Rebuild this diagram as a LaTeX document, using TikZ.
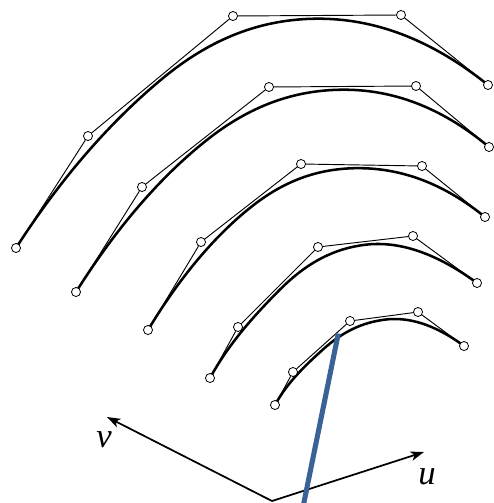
\documentclass[tikz,border=0pt]{standalone}
\usepackage{fontspec}
\setmainfont{Liberation Serif}
\usetikzlibrary{arrows.meta, calc, backgrounds}

\begin{document}
\begin{tikzpicture}[
  x=0.75pt, y=-0.75pt,
  ctrl/.style={draw, fill=white, circle, inner sep=0pt, minimum size=6.8pt, line width=0.6pt},
  poly/.style={line width=0.7pt},
  spline/.style={line width=1.9pt},
  axis/.style={line width=1.3pt, -{Stealth[length=10pt, width=7pt, inset=2.5pt]}},
  lbl/.style={inner sep=0pt, font=\fontsize{26}{26}\selectfont\itshape},
]
  \useasboundingbox (0,0) rectangle (493,503);

  % Control points, outer curve first
  \node[ctrl] (A0) at (16,248)  {};
  \node[ctrl] (A1) at (88,136)  {};
  \node[ctrl] (A2) at (233,16)  {};
  \node[ctrl] (A3) at (401,15)  {};
  \node[ctrl] (A4) at (488,85)  {};

  \node[ctrl] (B0) at (76,292)  {};
  \node[ctrl] (B1) at (142,187) {};
  \node[ctrl] (B2) at (269,87)  {};
  \node[ctrl] (B3) at (416,86)  {};
  \node[ctrl] (B4) at (489,147) {};

  \node[ctrl] (C0) at (148,330) {};
  \node[ctrl] (C1) at (201,242) {};
  \node[ctrl] (C2) at (301,164) {};
  \node[ctrl] (C3) at (422,166) {};
  \node[ctrl] (C4) at (485,217) {};

  \node[ctrl] (D0) at (210,378) {};
  \node[ctrl] (D1) at (238,327) {};
  \node[ctrl] (D2) at (318,247) {};
  \node[ctrl] (D3) at (413,236) {};
  \node[ctrl] (D4) at (477,283) {};

  \node[ctrl] (E0) at (275,405) {};
  \node[ctrl] (E1) at (293,372) {};
  \node[ctrl] (E2) at (350,321) {};
  \node[ctrl] (E3) at (418,312) {};
  \node[ctrl] (E4) at (464,346) {};

  % Control polygons and splines (joints pulled a little inside)
  \foreach \c in {A,B,C,D,E} {
    \draw[poly] (\c0) -- (\c1) -- (\c2) -- (\c3) -- (\c4);
    \coordinate (\c-m1) at ($(\c1.center)!.5!(\c2.center)$);
    \coordinate (\c-m2) at ($(\c2.center)!.5!(\c3.center)$);
    \coordinate (\c-J1) at ($(\c-m1)!2.4pt!-90:(\c2.center)$);
    \coordinate (\c-J2) at ($(\c-m2)!2.4pt!-90:(\c3.center)$);
    \coordinate (\c-h1) at ($(\c-m1)!2/3!(\c1.center)$);
    \coordinate (\c-h2) at ($(\c-m1)!2/3!(\c2.center)$);
    \coordinate (\c-h3) at ($(\c-m2)!2/3!(\c2.center)$);
    \coordinate (\c-h4) at ($(\c-m2)!2/3!(\c3.center)$);
    \begin{scope}[on background layer]
      \draw[spline] (\c0.center)
        .. controls ($(\c0.center)!2/3!(\c1.center)$) and ($(\c-h1)+(\c-J1)-(\c-m1)$) .. (\c-J1)
        .. controls ($(\c-h2)+(\c-J1)-(\c-m1)$) and ($(\c-h3)+(\c-J2)-(\c-m2)$) .. (\c-J2)
        .. controls ($(\c-h4)+(\c-J2)-(\c-m2)$) and ($(\c4.center)!2/3!(\c3.center)$) .. (\c4.center);
    \end{scope}
  }

  % Frame u, v
  \coordinate (O)  at (272,501);
  \coordinate (Tv) at (107,417);
  \coordinate (Tu) at (424,452);
  \draw[axis] (O) -- (Tv);
  \draw[axis] (O) -- (Tu);
  \node[lbl] (Lv) at (104,440) {v};
  \node[lbl] (Lu) at (427,477) {u};

  % Blue ray
  \coordinate (R1) at (338.3,333.5);
  \coordinate (R2) at (302,512);
  \draw[line width=3.8pt, color={rgb,255:red,58;green,98;blue,150}] (R1) -- (R2);
\end{tikzpicture}
\end{document}
